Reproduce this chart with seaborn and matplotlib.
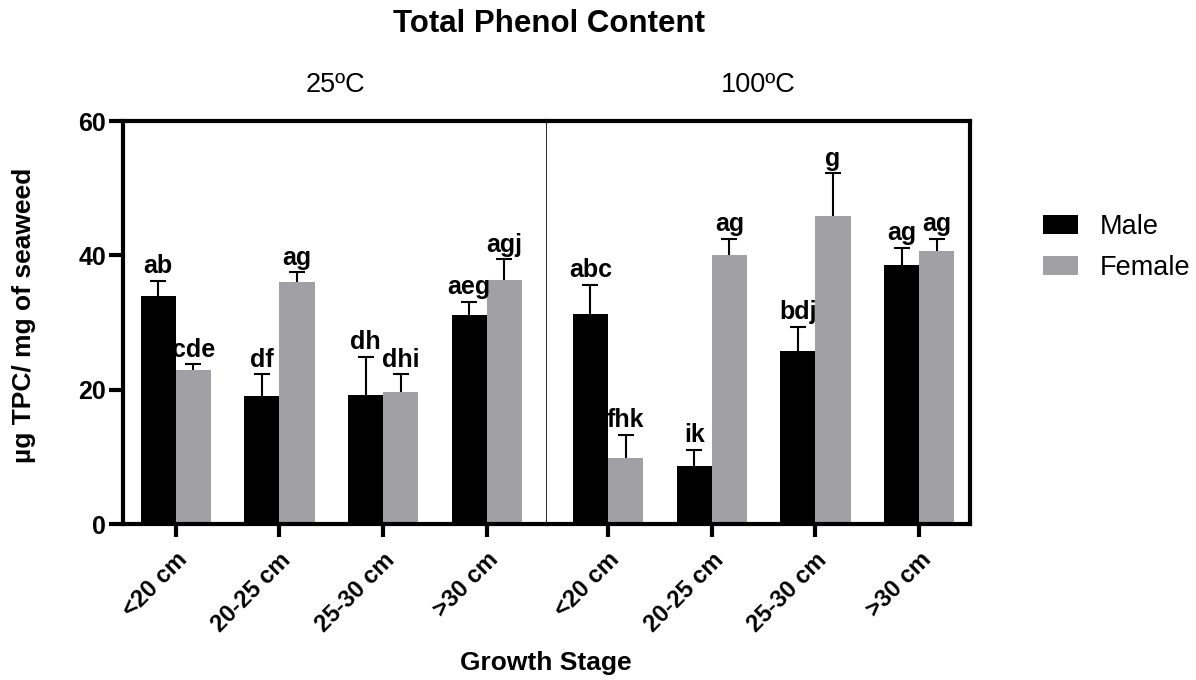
import numpy as np
import pandas as pd
import matplotlib
matplotlib.use("Agg")
import matplotlib.pyplot as plt
import seaborn as sns
from matplotlib.patches import Patch

stages = ["<20 cm", "20-25 cm", "25-30 cm", ">30 cm"]
temps = ["25ºC", "100ºC"]
sexes = ["Male", "Female"]

male_25 = [33.9, 19.0, 19.2, 31.1]
female_25 = [22.9, 36.1, 19.6, 36.3]
male_100 = [31.3, 8.6, 25.7, 38.5]
female_100 = [9.8, 40.0, 45.8, 40.6]

male_25_err = [2.3, 3.3, 5.7, 2.0]
female_25_err = [0.9, 1.4, 2.7, 3.1]
male_100_err = [4.3, 2.4, 3.7, 2.6]
female_100_err = [3.5, 2.5, 6.4, 1.9]

male_25_lbl = ["ab", "df", "dh", "aeg"]
female_25_lbl = ["cde", "ag", "dhi", "agj"]
male_100_lbl = ["abc", "ik", "bdj", "ag"]
female_100_lbl = ["fhk", "ag", "g", "ag"]

colors = {"Male": "#000000", "Female": "#a1a0a5"}

sns.set_theme(style="white")
plt.rcParams["font.family"] = ["Liberation Sans", "DejaVu Sans"]
plt.rcParams["text.color"] = "black"
plt.rcParams["axes.labelcolor"] = "black"
plt.rcParams["xtick.color"] = "black"
plt.rcParams["ytick.color"] = "black"

fig = plt.figure(figsize=(11.96, 6.8), dpi=100)
ax1 = fig.add_axes([0.1028, 0.2294, 0.3545, 0.5926])
ax2 = fig.add_axes([0.1028 + 0.3545, 0.2294, 0.3537, 0.5926], sharey=ax1)

panels = [
    (ax1, male_25, female_25, male_25_err, female_25_err, male_25_lbl, female_25_lbl, temps[0], (-0.51, 3.58)),
    (ax2, male_100, female_100, male_100_err, female_100_err, male_100_lbl, female_100_lbl, temps[1], (-0.59, 3.49)),
]

for ax, m, f, me, fe, ml, fl, temp, xl in panels:
    df = pd.DataFrame({
        "stage": stages * 2,
        "sex": ["Male"] * 4 + ["Female"] * 4,
        "value": m + f,
    })
    sns.barplot(data=df, x="stage", y="value", hue="sex", order=stages,
                hue_order=sexes, palette=colors, width=0.68, saturation=1,
                errorbar=None, legend=False, ax=ax, linewidth=0, zorder=2)
    errs = {"Male": me, "Female": fe}
    vals = {"Male": m, "Female": f}
    lbls = {"Male": ml, "Female": fl}
    for cont, sex in zip(ax.containers, sexes):
        xs = [p.get_x() + p.get_width() / 2 for p in cont.patches]
        ys = np.array(vals[sex])
        er = np.array(errs[sex])
        eb = ax.errorbar(xs, ys, yerr=[np.zeros_like(er), er], fmt="none",
                         ecolor="black", elinewidth=1.5, capsize=6, capthick=1.5, zorder=1)
        caplines = eb[1]
        for cl in caplines:
            yd = np.asarray(cl.get_ydata(), dtype=float)
            if np.allclose(yd, ys):
                cl.set_visible(False)
        for x, y, e, t in zip(xs, ys, er, lbls[sex]):
            ax.annotate(t, (x, y + e), xytext=(0, 5.5), textcoords="offset points",
                        ha="center", va="baseline", fontsize=18, fontweight="bold",
                        color="black", zorder=4)
    ax.set_xlim(*xl)
    ax.set_ylim(0, 60)
    ax.set_xlabel("")
    ax.set_ylabel("")
    ax.set_xticks(range(4))
    ax.set_xticklabels(stages, rotation=45, ha="right", rotation_mode="anchor",
                       fontsize=17, fontweight="bold")
    ax.tick_params(axis="x", direction="out", length=9.5, width=3, bottom=True, pad=8)
    for s in ax.spines.values():
        s.set_linewidth(3)
        s.set_color("black")
    bb = ax.get_position()
    fig.text((bb.x0 + bb.x1) / 2, 1 - 85 / 680, temp, ha="center", va="center", fontsize=19.5)

ax1.set_yticks([0, 20, 40, 60])
ax1.set_yticklabels(["0", "20", "40", "60"], fontsize=18, fontweight="bold")
ax1.tick_params(axis="y", direction="out", length=10, width=3, left=True, pad=2)
ax1.spines["right"].set_linewidth(1.9)
ax2.spines["left"].set_visible(False)
ax2.tick_params(axis="y", left=False, labelleft=False)

fig.text(0.020, 1 - 315 / 680, "µg TPC/ mg of seaweed", rotation=90, ha="center", va="center",
         fontsize=19, fontweight="bold")
fig.text(0.456, 1 - 663 / 680, "Growth Stage", ha="center", va="center", fontsize=19, fontweight="bold")
fig.text(0.459, 1 - 24 / 680, "Total Phenol Content", ha="center", va="center", fontsize=22.5, fontweight="bold")

handles = [Patch(facecolor=colors[s], edgecolor="none", label=s) for s in sexes]
fig.legend(handles=handles, loc="upper left", bbox_to_anchor=(0.872, 1 - 214 / 680),
           frameon=False, fontsize=19.5, handlelength=1.3, handleheight=0.7,
           labelspacing=0.55, handletextpad=0.8, borderpad=0, borderaxespad=0)

fig.savefig("out.png", dpi=100)
